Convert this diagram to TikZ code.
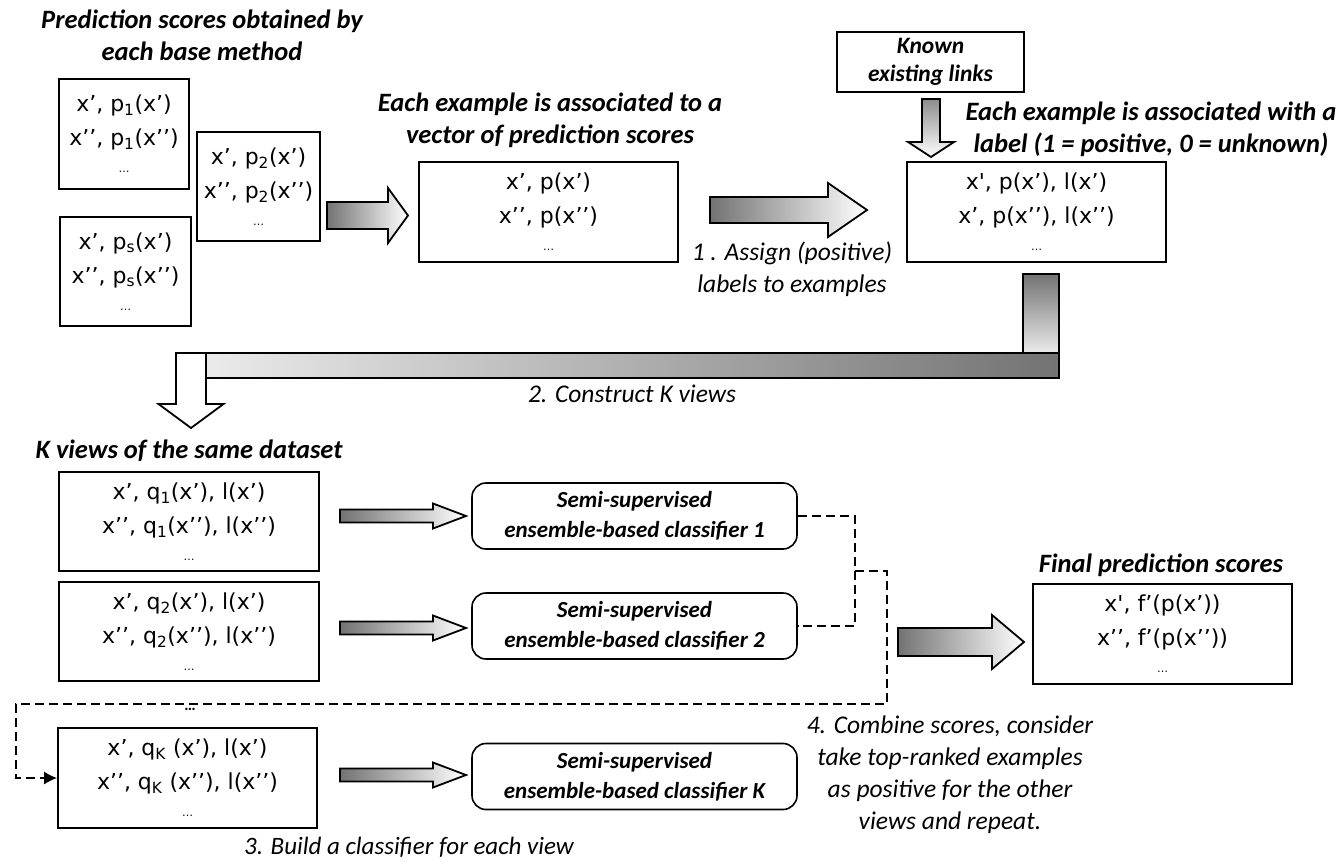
\documentclass[tikz,border=0pt]{standalone}
\usepackage{fontspec}
\setmainfont{Carlito}
\newfontfamily\boxfont{DejaVu Sans}
\usetikzlibrary{arrows.meta}

\newcommand{\smalldots}{{\fontsize{11}{11}\selectfont …}}
\newcommand{\fatarrow}[7]{%
  \shadedraw[#7] (#1,#3-#4) -- (#2-#6,#3-#4) -- (#2-#6,#3-#5) -- (#2,#3) -- (#2-#6,#3+#5) -- (#2-#6,#3+#4) -- (#1,#3+#4) -- cycle;}

\begin{document}
\begin{tikzpicture}[x=1pt, y=-1pt,
    databox/.style={draw, line width=1.8pt, inner sep=0pt, align=center, font=\boxfont\fontsize{22}{34}\selectfont},
    clsbox/.style={draw, line width=1.6pt, rounded corners=14pt, inner sep=0pt, minimum width=325pt, minimum height=66pt, align=center, font=\fontsize{23}{30}\selectfont\bfseries\itshape},
    title/.style={inner sep=0pt, align=center, font=\fontsize{26.5}{32}\selectfont\bfseries\itshape},
    steplabel/.style={inner sep=0pt, align=center, font=\fontsize{25.5}{32}\selectfont\itshape},
    fat/.style={line width=1.8pt, left color=black!55, right color=white},
    dashline/.style={line width=1.5pt, dash pattern=on 9pt off 5pt}]

    \fill[white] (0,0) rectangle (1340,862);
    \useasboundingbox (0,0) rectangle (1340,862);

    \node[title] (t1) at (202,35) {Prediction scores obtained by\\each base method};
    \node[databox, minimum width=130pt, minimum height=110pt] (p1) at (124,134) {x’, p\textsubscript{1}(x’)\\x’’, p\textsubscript{1}(x’’)\\[-7pt]\smalldots};
    \node[databox, minimum width=123pt, minimum height=109pt] (p2) at (258.5,186.5) {x’, p\textsubscript{2}(x’)\\x’’, p\textsubscript{2}(x’’)\\[-7pt]\smalldots};
    \node[databox, minimum width=131pt, minimum height=109pt] (ps) at (125.5,271.5) {x’, p\textsubscript{s}(x’)\\x’’, p\textsubscript{s}(x’’)\\[-7pt]\smalldots};
    \fatarrow{327}{408}{215.5}{13.5}{27.5}{20}{fat}

    \node[title] (t2) at (550,120.5) {Each example is associated to a\\vector of prediction scores};
    \node[databox, minimum width=259pt, minimum height=100pt] (vec) at (548.5,212) {x’, p(x’)\\x’’, p(x’’)\\[-7pt]\smalldots};
    \fatarrow{710}{867}{210}{13}{27}{39}{fat}
    \node[steplabel] (l1) at (792,269) {1 . Assign (positive)\\labels to examples};

    \node[databox, minimum width=187pt, minimum height=60pt, font=\fontsize{23.5}{28}\selectfont\bfseries\itshape] (known) at (930.5,62) {Known\\existing links};
    \shadedraw[line width=1.8pt, top color=black!45, bottom color=white] (922,99) -- (940,99) -- (940,142) -- (954,142) -- (931,157) -- (908,142) -- (922,142) -- cycle;
    \node[title] (t3) at (1151,129) {Each example is associated with a\\label (1 = positive, 0 = unknown)};
    \node[databox, minimum width=259pt, minimum height=100pt] (lab) at (1036.5,212) {x\textquotesingle, p(x’), l(x’)\\x’, p(x’’), l(x’’)\\[-7pt]\smalldots};

    \shadedraw[line width=1.8pt, top color=black!55, bottom color=black!8] (1023,274) rectangle (1059,353);
    \shadedraw[line width=1.8pt, left color=black!8, right color=black!55] (206,353) rectangle (1059,378);
    \draw[line width=1.8pt, fill=white] (176,353) -- (206,353) -- (206,404) -- (223.5,404) -- (191,428) -- (158.5,404) -- (176,404) -- cycle;
    \node[steplabel] (l2) at (632,394) {2. Construct K views};

    \node[title] (t4) at (189,451) {K views of the same dataset};
    \node[databox, minimum width=260pt, minimum height=99pt] (q1) at (189,521.5) {x’, q\textsubscript{1}(x’), l(x’)\\x’’, q\textsubscript{1}(x’’), l(x’’)\\[-7pt]\smalldots};
    \node[databox, minimum width=260pt, minimum height=99pt] (q2) at (189,631.5) {x’, q\textsubscript{2}(x’), l(x’)\\x’’, q\textsubscript{2}(x’’), l(x’’)\\[-7pt]\smalldots};
    \node[title, font=\fontsize{16}{16}\selectfont\bfseries] (vdots) at (190,709) {…};
    \node[databox, minimum width=259pt, minimum height=100pt] (qK) at (187.5,778) {x’, q\textsubscript{K} (x’), l(x’)\\x’’, q\textsubscript{K} (x’’), l(x’’)\\[-7pt]\smalldots};
    \node[steplabel, font=\fontsize{25}{30}\selectfont\itshape] (l3) at (409,847) {3. Build a classifier for each view};

    \fatarrow{340}{466}{516}{6.5}{12.5}{33}{fat}
    \fatarrow{340}{466}{628}{6.5}{12.5}{33}{fat}
    \fatarrow{340}{466}{775}{6.5}{12.5}{33}{fat}

    \node[clsbox] (c1) at (634.5,516) {Semi-supervised\\ensemble-based classifier 1};
    \node[clsbox] (c2) at (634.5,626) {Semi-supervised\\ensemble-based classifier 2};
    \node[clsbox] (cK) at (634.5,776.5) {Semi-supervised\\ensemble-based classifier K};

    \coordinate (jn) at (855,571);
    \coordinate (jr) at (887,704);
    \coordinate (jl) at (16,704);
    \draw[dashline] (c1.east) -| (jn) |- (c2.east);
    \draw[dashline, -{Latex[length=13pt,width=13pt]}] (jn) -| (jr) -- (jl) |- (qK.west);

    \fatarrow{898}{1024}{642}{14}{27}{32}{fat}
    \node[title] (t5) at (1161,565) {Final prediction scores};
    \node[databox, minimum width=259pt, minimum height=100pt] (fin) at (1162.5,634) {x\textquotesingle, f’(p(x’))\\x’’, f’(p(x’’))\\[-7pt]\smalldots};
    \node[steplabel] (l4) at (950,775) {4. Combine scores, consider\\take top-ranked examples\\as positive for the other\\views and repeat.};
\end{tikzpicture}
\end{document}
